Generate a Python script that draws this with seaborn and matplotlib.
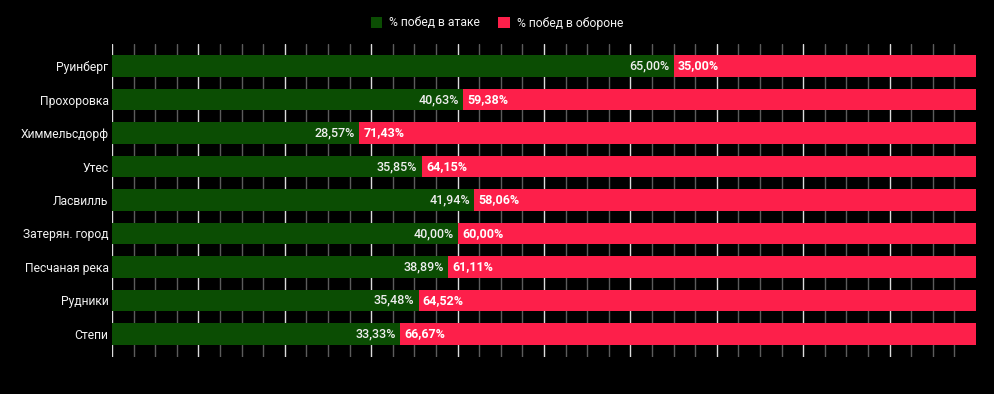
import numpy as np
import seaborn as sns
import matplotlib.pyplot as plt
import pandas as pd
from matplotlib.ticker import FixedLocator
from matplotlib.patches import Patch

maps = ['Руинберг', 'Прохоровка', 'Химмельсдорф', 'Утес', 'Ласвилль',
        'Затерян. город', 'Песчаная река', 'Рудники', 'Степи']
attack = [65.00, 40.63, 28.57, 35.85, 41.94, 40.00, 38.89, 35.48, 33.33]
defense = [35.00, 59.38, 71.43, 64.15, 58.06, 60.00, 61.11, 64.52, 66.67]

green = '#0b4d03'
red = '#fd1f4a'

df = pd.DataFrame({'map': maps, 'attack': attack, 'defense': defense})
df['total'] = df['attack'] + df['defense']

sns.set_style('dark')
plt.rcParams['font.family'] = ['Roboto', 'DejaVu Sans']

fig = plt.figure(figsize=(9.94, 3.94), dpi=100, facecolor='black')
ax = fig.add_axes([112/994, 1 - 357/394, 864/994, 313/394])
ax.set_facecolor('black')

sns.barplot(data=df, x='total', y='map', color=red, width=0.65, ax=ax,
            saturation=1, orient='h', linewidth=0, edgecolor='none')
sns.barplot(data=df, x='attack', y='map', color=green, width=0.65, ax=ax,
            saturation=1, orient='h', linewidth=0, edgecolor='none')

ax.set_xlim(0, 100)
ax.set_ylim(8.69, -0.66)
ax.set_xlabel('')
ax.set_ylabel('')

ax.xaxis.set_major_locator(FixedLocator(np.arange(0, 100, 10)))
ax.xaxis.set_minor_locator(FixedLocator(np.arange(2.5, 98, 2.5)))
ax.grid(False)
ax.grid(True, axis='x', which='major', color='#dcdcdc', linewidth=1)
ax.grid(True, axis='x', which='minor', color='#5c5c5c', linewidth=1)
ax.set_axisbelow(True)
ax.tick_params(axis='x', which='both', length=0, labelbottom=False)
ax.tick_params(axis='y', length=0, pad=2.5, colors='#f2f2f2', labelsize=8.7)
for s in ax.spines.values():
    s.set_visible(False)

for i, (a, d) in enumerate(zip(attack, defense)):
    ax.text(a - 0.5, i, f'{a:.2f}%'.replace('.', ','), ha='right', va='center',
            color='#eeeeee', fontsize=9, fontweight='medium')
    ax.text(a + 0.5, i, f'{d:.2f}%'.replace('.', ','), ha='left', va='center',
            color='white', fontsize=9, fontweight='bold')

handles = [Patch(facecolor=green, edgecolor='none', label='% побед в атаке'),
           Patch(facecolor=red, edgecolor='none', label='% побед в обороне')]
fig.legend(handles=handles, loc='center', bbox_to_anchor=(0.5, 1 - 23/394),
           ncol=2, frameon=False, labelcolor='#f2f2f2', fontsize=8.7,
           handlelength=0.95, handleheight=0.95, handletextpad=0.6,
           columnspacing=1.5)

plt.savefig('out.png', dpi=100, facecolor='black')
